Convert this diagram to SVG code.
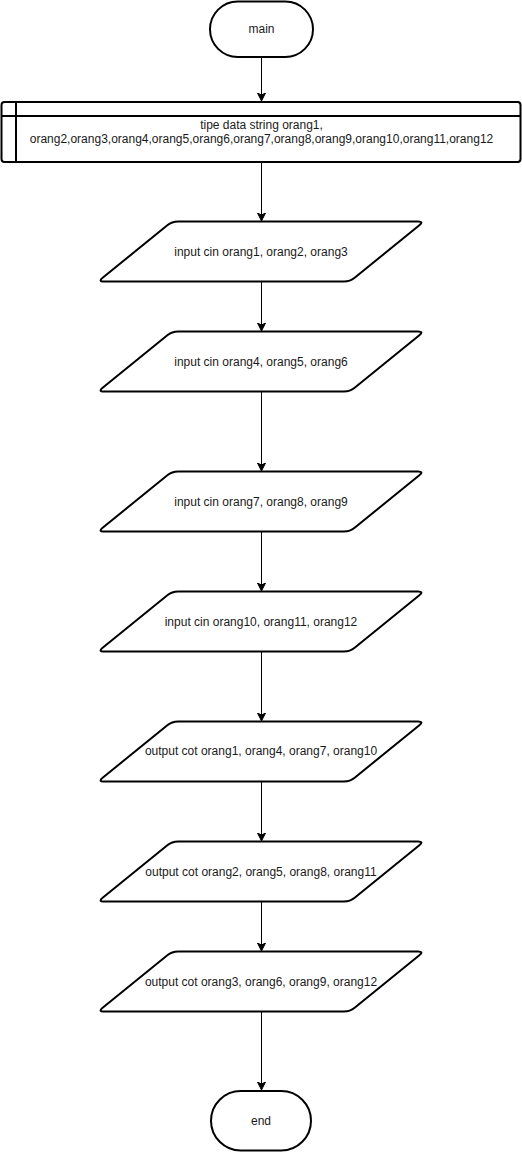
<svg xmlns="http://www.w3.org/2000/svg" xmlns:xlink="http://www.w3.org/1999/xlink" width="522" height="1152" viewBox="0 0 522 1152">
<style>
.shape{fill:#fff;stroke:#000;stroke-width:2}
.inner{fill:none;stroke:#000;stroke-width:2}
.edge{fill:none;stroke:#000;stroke-width:1}
text{font-family:"Liberation Sans",Arial,sans-serif;font-size:12px;fill:#1a1a1a;text-anchor:middle}
</style>
<defs>
<marker id="arrow" markerUnits="userSpaceOnUse" markerWidth="10" markerHeight="10" refX="8" refY="4" orient="auto">
<path d="M0,0 L8,4 L0,8 L2,4 Z" fill="#000" stroke="#000" stroke-width="1"/>
</marker>
<path id="para" d="M80,0 L320,0 Q326,0 321.34,3.78 L256.66,56.22 Q252,60 246,60 L6,60 Q0,60 4.66,56.22 L69.34,3.78 Q74,0 80,0 Z"/>
</defs>
<rect width="522" height="1152" fill="#fff"/>
<g id="connectors">
<line class="edge" x1="261.5" y1="57" x2="261.5" y2="101" marker-end="url(#arrow)"/>
<line class="edge" x1="261.5" y1="162" x2="261.5" y2="221" marker-end="url(#arrow)"/>
<line class="edge" x1="261.5" y1="281.5" x2="261.5" y2="331" marker-end="url(#arrow)"/>
<line class="edge" x1="261.5" y1="391.5" x2="261.5" y2="471" marker-end="url(#arrow)"/>
<line class="edge" x1="261.5" y1="531.5" x2="261.5" y2="591" marker-end="url(#arrow)"/>
<line class="edge" x1="261.5" y1="651.5" x2="261.5" y2="721" marker-end="url(#arrow)"/>
<line class="edge" x1="261.5" y1="781.5" x2="261.5" y2="841" marker-end="url(#arrow)"/>
<line class="edge" x1="261.5" y1="901.5" x2="261.5" y2="951" marker-end="url(#arrow)"/>
<line class="edge" x1="261.5" y1="1011.5" x2="261.5" y2="1090" marker-end="url(#arrow)"/>
</g>
<g id="main">
<rect class="shape" x="210" y="1.5" width="103" height="55.5" rx="27.75"/>
<text x="261.5" y="33">main</text>
</g>
<g id="declare">
<rect class="shape" x="1.5" y="102" width="519" height="60" rx="3"/>
<line class="inner" x1="1.5" y1="116" x2="520.5" y2="116"/>
<line class="inner" x1="16" y1="102" x2="16" y2="162"/>
<text x="261.5" y="129">tipe data string orang1,</text>
<text x="261.5" y="142.5">orang2,orang3,orang4,orang5,orang6,orang7,orang8,orang9,orang10,orang11,orang12</text>
</g>
<g id="input1">
<use xlink:href="#para" class="shape" transform="translate(98,221.5)"/>
<text x="261" y="255.5">input cin orang1, orang2, orang3</text>
</g>
<g id="input2">
<use xlink:href="#para" class="shape" transform="translate(98,331.5)"/>
<text x="261" y="365.5">input cin orang4, orang5, orang6</text>
</g>
<g id="input3">
<use xlink:href="#para" class="shape" transform="translate(98,471.5)"/>
<text x="261" y="505.5">input cin orang7, orang8, orang9</text>
</g>
<g id="input4">
<use xlink:href="#para" class="shape" transform="translate(98,591.5)"/>
<text x="261" y="625.5">input cin orang10, orang11, orang12</text>
</g>
<g id="output1">
<use xlink:href="#para" class="shape" transform="translate(98,721.5)"/>
<text x="261" y="755">output cot orang1, orang4, orang7, orang10</text>
</g>
<g id="output2">
<use xlink:href="#para" class="shape" transform="translate(98,841.5)"/>
<text x="261" y="875.5">output cot orang2, orang5, orang8, orang11</text>
</g>
<g id="output3">
<use xlink:href="#para" class="shape" transform="translate(98,951.5)"/>
<text x="261" y="986">output cot orang3, orang6, orang9, orang12</text>
</g>
<g id="end">
<rect class="shape" x="211" y="1091" width="100" height="59.5" rx="29.75"/>
<text x="261" y="1125">end</text>
</g>
</svg>
